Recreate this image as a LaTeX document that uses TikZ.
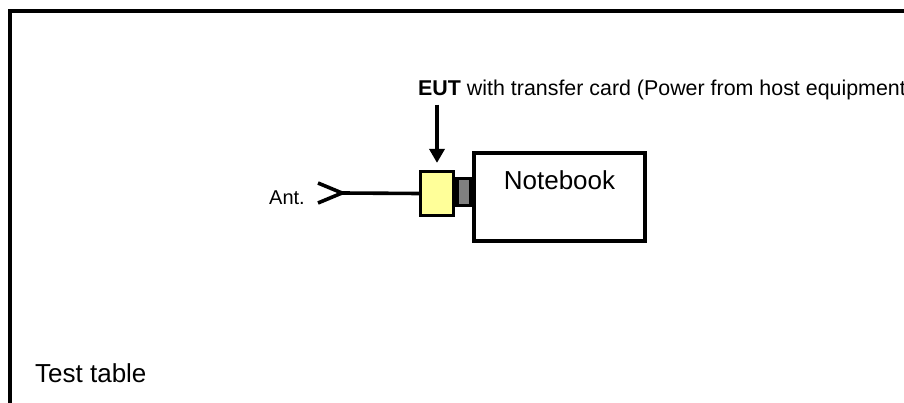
\documentclass[tikz,border=0pt]{standalone}
\usepackage{fontspec}
\setmainfont{Liberation Sans}
\usetikzlibrary{arrows.meta,positioning}
\definecolor{cardy}{HTML}{FFFF99}
\definecolor{plugg}{HTML}{808080}
\tikzset{
  ar/.style={-{Triangle[length=14pt,width=15pt]},line width=3.5pt},
  box/.style={draw,line width=3.2pt,inner sep=0pt},
  lead/.style={line width=3.6pt},
  txt/.style={inner sep=0pt,font=\fontsize{20}{24}\selectfont},
  txtbig/.style={inner sep=0pt,font=\fontsize{26}{30}\selectfont}
}
\begin{document}
\begin{tikzpicture}[x=1pt,y=-1pt]
\useasboundingbox (0,0) rectangle (904,403);
\clip (0,0) rectangle (904,403);
\fill[white] (0,0) rectangle (904,403);
% table frame, runs off the page
\draw[line width=4pt] (10,11) rectangle (1000,500);
% host, plug and card
\node[box,fill=plugg,minimum width=14pt,minimum height=27pt] (plug) at (464,192) {};
\node[box,fill=cardy,minimum width=33pt,minimum height=44pt] (card) at (437,193.5) {};
\node[box,line width=4pt,minimum width=171pt,minimum height=88pt,
  label={[txtbig,below=19pt]north:Notebook}] (nb) at (559.5,197) {};
% antenna
\node[txt,anchor=base east] (antl) at (305,205) {Ant.};
\coordinate (ant) at (342,193);
\draw[lead] (ant) -- (card.west);
\draw[lead] ([shift={(-24pt,-10pt)}]ant) -- (ant) -- ([shift={(-24pt,10pt)}]ant);
% labels
\node[txt,anchor=base west,font=\fontsize{21.4}{25}\selectfont] (eut) at (418,96) {\textbf{EUT} with transfer card (Power from host equipment};
\draw[ar,shorten <=4pt,shorten >=7pt] (eut.south -| card.north) -- (card.north);
\node[txtbig,anchor=base west] (tt) at (35,382) {Test table};
\end{tikzpicture}
\end{document}
